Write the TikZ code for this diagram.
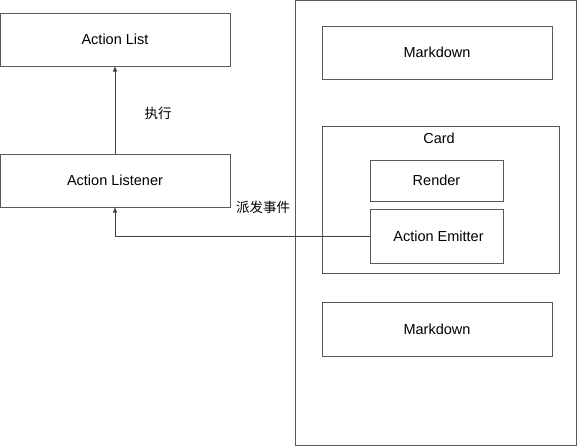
\documentclass[tikz,border=0pt]{standalone}
\usepackage{fontspec}
\setmainfont{Liberation Sans}
\newfontfamily\cjk{Noto Sans CJK SC}
\usetikzlibrary{arrows.meta}
\begin{document}
\begin{tikzpicture}[x=1pt,y=-1pt,
  box/.style={draw=black!65, line width=1pt, inner sep=0pt, font=\fontsize{14.5}{17}\selectfont},
  conn/.style={draw=black!75, line width=0.9pt, -{Triangle[length=5pt,width=4pt]}},
  lbl/.style={font=\cjk\fontsize{13.5}{16}\selectfont, inner sep=0pt}]
\useasboundingbox (0,0) rectangle (579,447);
\node[box, minimum width=230, minimum height=53] (list) at (115,39.5) {Action List};
\node[box, minimum width=230, minimum height=53] (listener) at (115,180.5) {Action Listener};
\node[box, minimum width=281, minimum height=445] (page) at (435.5,223) {};
\node[box, minimum width=230, minimum height=53] (md1) at (437,52.5) {Markdown};
\node[box, minimum width=237, minimum height=147] (card) at (440.5,199.5) {};
\node[font=\fontsize{14.5}{17}\selectfont, inner sep=0pt] (cardlbl) at (439,138) {Card};
\node[box, minimum width=133, minimum height=41] (render) at (436.5,180.5) {Render};
\node[box, minimum width=133, minimum height=54] (emit) at (436.5,236) {\hspace{4pt}Action Emitter};
\node[box, minimum width=230, minimum height=54] (md2) at (437,329) {Markdown};
\draw[conn] (listener.north) -- (list.south);
\node[lbl] (exec) at (158,113) {执行};
\draw[conn] (emit.west) -| (listener.south);
\node[lbl] (disp) at (263,207) {派发事件};
\end{tikzpicture}
\end{document}
